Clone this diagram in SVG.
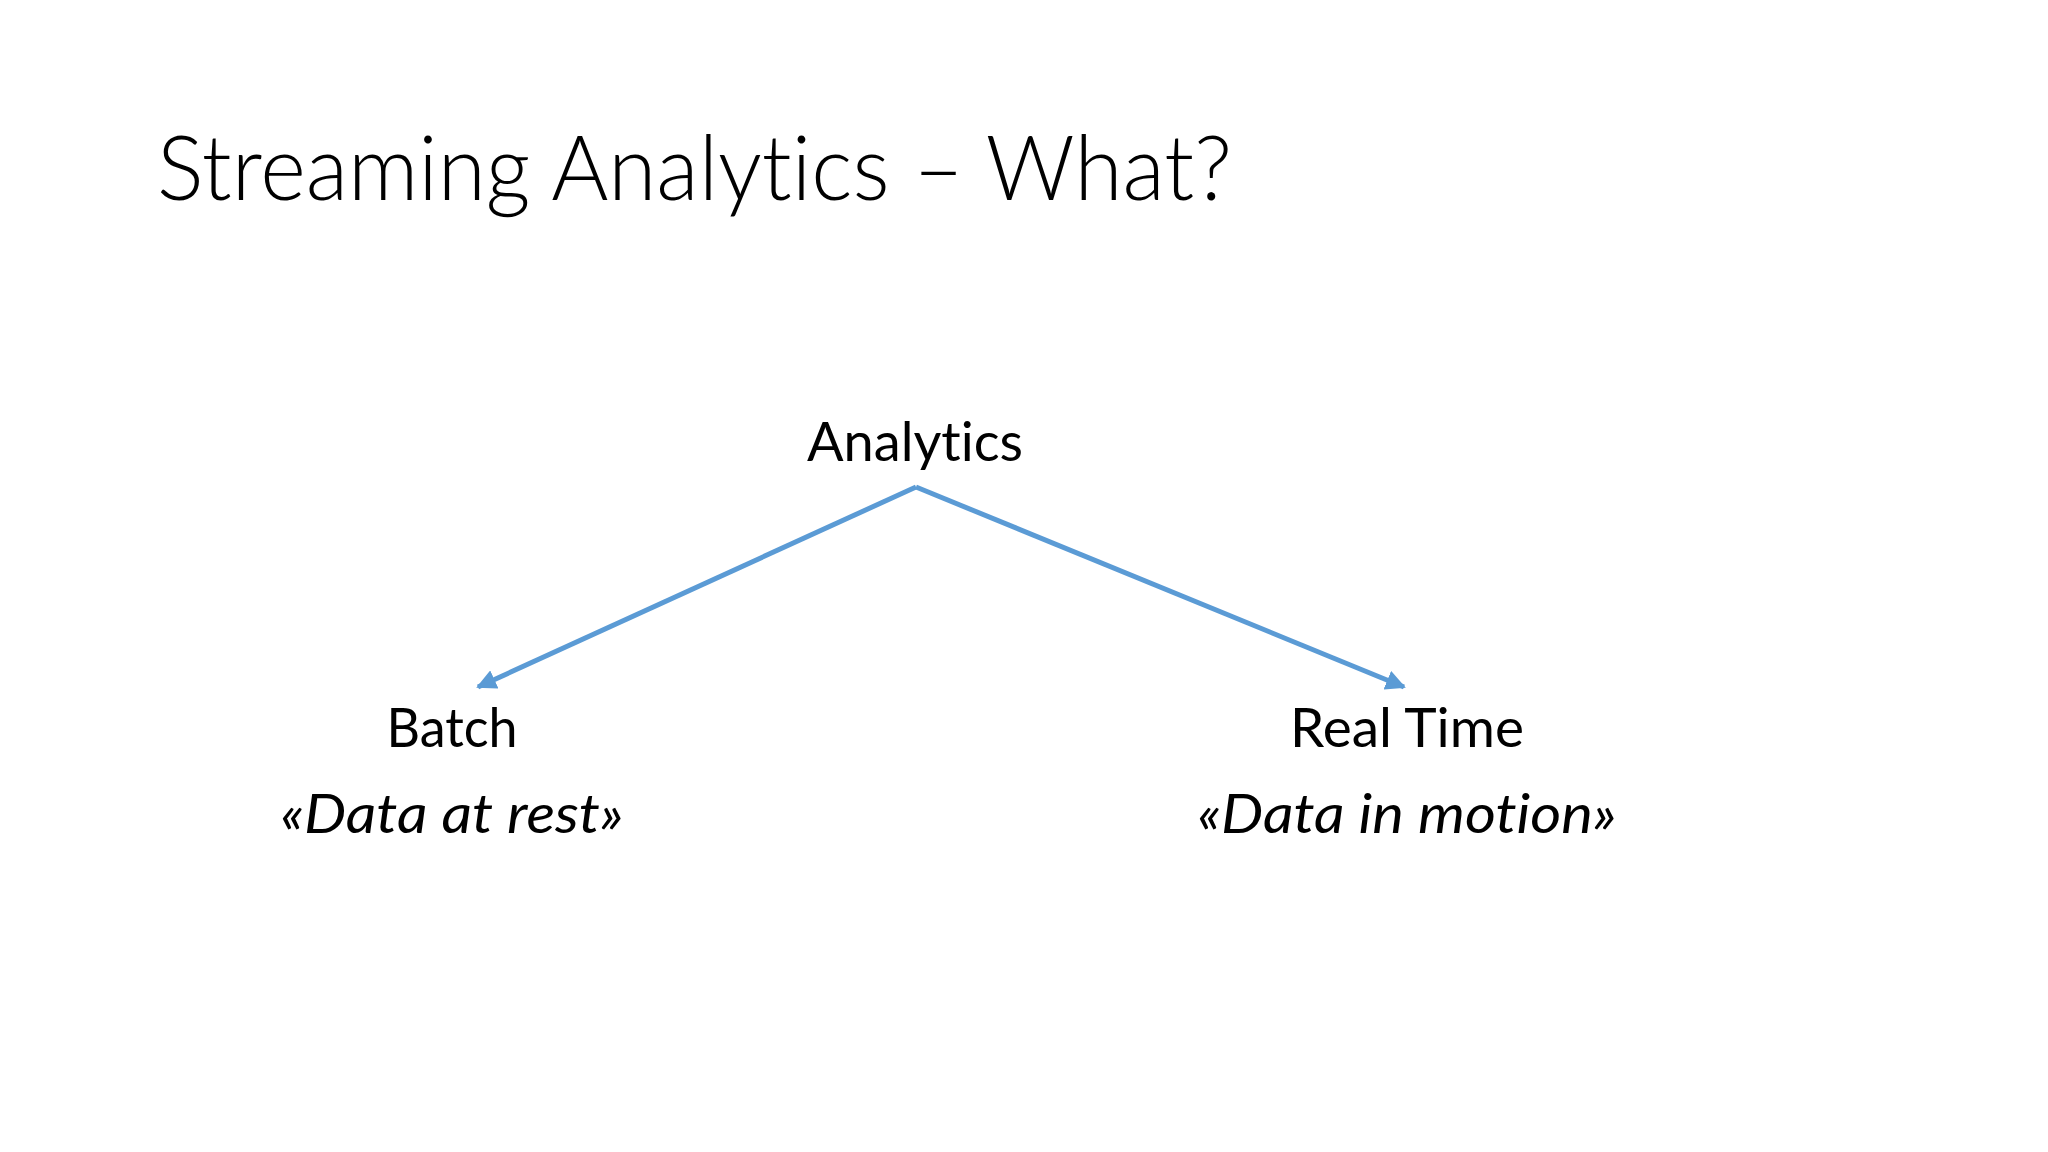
<svg xmlns="http://www.w3.org/2000/svg" width="2048" height="1152" viewBox="0 0 2048 1152">
<defs>
<style>
text{font-family:Lato,"Open Sans","Liberation Sans",sans-serif;fill:#000;font-variant-ligatures:none;font-feature-settings:"liga" 0,"clig" 0}
.title{font-size:90px;font-weight:300}
.lbl{font-size:55px;text-anchor:middle}
.it{font-size:55px;font-style:italic;text-anchor:middle}
.edge{stroke:#5B9BD5;stroke-width:5;fill:none;marker-end:url(#ah)}
</style>
<marker id="ah" viewBox="0 0 10 10" refX="9" refY="5" markerWidth="4" markerHeight="4" orient="auto" markerUnits="strokeWidth">
<path d="M0,0 L10,5 L0,10 z" fill="#5B9BD5"/>
</marker>
</defs>
<rect width="2048" height="1152" fill="#ffffff"/>
<g id="title"><text class="title" x="157" y="200" textLength="1075" lengthAdjust="spacingAndGlyphs">Streaming Analytics – What?</text></g>
<g id="connectors">
<line class="edge" x1="916" y1="487" x2="478" y2="687"/>
<line class="edge" x1="916" y1="487" x2="1404" y2="687"/>
</g>
<g id="analytics"><text class="lbl" x="915" y="461" textLength="216" lengthAdjust="spacingAndGlyphs">Analytics</text></g>
<g id="batch">
<text class="lbl" x="452" y="747" textLength="131" lengthAdjust="spacingAndGlyphs">Batch</text>
<text class="it" x="452" y="833" textLength="343" lengthAdjust="spacingAndGlyphs">«Data at rest»</text>
</g>
<g id="realtime">
<text class="lbl" x="1407" y="747" textLength="234" lengthAdjust="spacingAndGlyphs">Real Time</text>
<text class="it" x="1407" y="833" textLength="419" lengthAdjust="spacingAndGlyphs">«Data in motion»</text>
</g>
</svg>
